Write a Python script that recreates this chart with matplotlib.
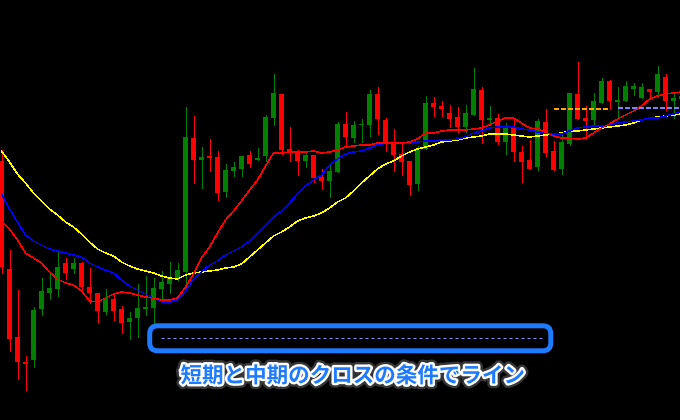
import matplotlib
matplotlib.use("Agg")
import matplotlib.pyplot as plt
import matplotlib.patheffects as pe
from matplotlib.patches import FancyBboxPatch
from matplotlib.lines import Line2D
import numpy as np

# ---- price data (arbitrary price levels) ----
opens = [259, 151, 83, 58, 60, 111, 127, 131, 157, 151,
         157, 133, 127, 108, 121, 111, 98, 102, 111, 112,
         131, 136, 142, 148, 282, 260, 264, 263, 228, 249,
         251, 265, 260, 264, 302, 326, 271, 269, 259, 265,
         243, 239, 248, 296, 282, 295, 295, 326, 300, 279,
         266, 259, 236, 271, 317, 314, 307, 303, 293, 305,
         330, 300, 302, 278, 293, 268, 260, 253, 298, 269,
         251, 276, 326, 302, 300, 317, 339, 318, 319, 331,
         322, 331, 328, 343, 319, 321]
highs = [270, 170, 130, 64, 113, 142, 147, 168, 162, 162,
         158, 152, 127, 131, 127, 114, 108, 136, 144, 142,
         149, 158, 157, 313, 304, 273, 281, 269, 256, 258,
         264, 269, 272, 305, 346, 326, 293, 270, 269, 265,
         251, 257, 298, 308, 299, 301, 330, 333, 302, 291,
         276, 259, 274, 324, 323, 319, 315, 313, 315, 352,
         333, 314, 306, 297, 300, 274, 280, 301, 311, 279,
         286, 327, 358, 314, 327, 342, 340, 333, 339, 337,
         337, 331, 354, 346, 327, 330]
lows = [147, 69, 41, 30, 53, 105, 121, 124, 141, 147,
        129, 117, 98, 106, 100, 87, 81, 83, 105, 95,
        121, 127, 140, 133, 237, 232, 249, 220, 223, 244,
        244, 253, 260, 259, 295, 266, 259, 245, 253, 238,
        231, 223, 248, 276, 278, 278, 284, 286, 269, 249,
        245, 225, 230, 271, 304, 304, 293, 288, 288, 305,
        277, 295, 276, 266, 259, 238, 251, 250, 264, 250,
        246, 275, 301, 282, 295, 317, 311, 303, 319, 325,
        322, 321, 325, 310, 302, 320]
closes = [153, 81, 58, 56, 110, 129, 132, 153, 147, 157,
          133, 127, 109, 122, 109, 97, 102, 112, 113, 132,
          138, 143, 150, 283, 260, 263, 262, 227, 250, 253,
          264, 256, 262, 303, 327, 270, 269, 259, 265, 242,
          239, 249, 296, 283, 295, 296, 326, 301, 277, 265,
          258, 235, 270, 317, 313, 311, 301, 293, 307, 331,
          300, 302, 278, 292, 268, 258, 251, 299, 267, 250,
          278, 327, 301, 299, 319, 339, 319, 320, 334, 334,
          333, 328, 346, 319, 322, 324]

# ---- moving averages (short / medium / long) ----
ma_short = [199, 191, 180, 167, 162, 157, 148, 141, 137, 135,
            129, 119, 118, 122, 126, 128, 127, 125, 123, 122,
            120, 120, 122, 133, 146, 162, 173, 187, 200, 209,
            219, 230, 240, 254, 267, 267, 268, 268, 268, 269,
            267, 268, 270, 273, 274, 275, 275, 277, 277, 277,
            277, 278, 281, 287, 287, 289, 290, 290, 290, 291,
            292, 295, 299, 302, 302, 297, 292, 291, 288, 284,
            282, 282, 281, 282, 287, 292, 296, 301, 305, 309,
            314, 321, 324, 326, 327, 328]
ma_medium = [226, 211, 198, 185, 179, 175, 171, 169, 167, 165,
             163, 157, 153, 150, 147, 140, 134, 130, 126, 122,
             118, 118, 120, 129, 141, 148, 155, 159, 165, 169,
             173, 179, 187, 195, 203, 209, 217, 226, 234, 240,
             245, 255, 261, 266, 268, 269, 272, 275, 277, 278,
             277, 277, 278, 279, 279, 280, 280, 281, 283, 287,
             289, 292, 293, 293, 293, 291, 290, 288, 287, 286,
             286, 289, 292, 293, 294, 294, 295, 297, 298, 299,
             300, 302, 302, 304, 306, 308]
ma_long = [269, 258, 246, 237, 227, 219, 211, 205, 198, 193,
           186, 178, 171, 167, 164, 158, 154, 151, 149, 147,
           144, 142, 141, 145, 147, 148, 149, 150, 152, 153,
           156, 163, 170, 177, 184, 188, 193, 199, 202, 204,
           207, 212, 218, 222, 229, 237, 244, 251, 256, 259,
           264, 268, 271, 273, 275, 278, 279, 280, 282, 283,
           284, 286, 286, 286, 285, 284, 283, 284, 285, 286,
           287, 289, 289, 290, 291, 292, 293, 294, 295, 297,
           300, 302, 303, 304, 305, 306]

# horizontal signal levels: (price, first bar, last bar, colour)
signal_levels = [(311, 69, 76, "#FFA500"), (312, 77, 86, "#8080FF")]

caption = "短期と中期のクロスの条件でライン"

# ---- figure ----
W, H, DPI = 680, 420, 100
fig = plt.figure(figsize=(W / DPI, H / DPI), dpi=DPI, facecolor="black")
ax = fig.add_axes([0, 0, 1, 1])
ax.set_facecolor("black")
ax.set_axis_off()

n = len(opens)
idx = np.arange(n)
o = np.array(opens, float)
h = np.array(highs, float)
l = np.array(lows, float)
c = np.array(closes, float)
up = c >= o
cols = np.where(up, "#008000", "#FF0000")

px = DPI / 72.0      # pixels per point
lw1 = 1.0 / px       # one-pixel width in points
lw_ma = 0.3          # hairline, aliased average lines

# wicks
ax.vlines(idx, l, h, colors=cols, linewidth=lw1, antialiased=False, zorder=2)
# bodies
body_bottom = np.minimum(o, c)
body_h = np.maximum(np.abs(c - o), 1.0)
ax.bar(idx, body_h, bottom=body_bottom, width=0.625, color=cols,
       linewidth=0, antialiased=False, zorder=3)

# moving averages
ax.plot(idx, ma_long, color="#FFFF00", lw=lw_ma, antialiased=False, zorder=4)
ax.plot(idx, ma_medium, color="#0000FF", lw=lw_ma, antialiased=False, zorder=4)
ax.plot(idx, ma_short, color="#FF0000", lw=lw_ma, antialiased=False, zorder=4)

# signal levels
for lvl, i0, i1, colr in signal_levels:
    ax.hlines(lvl, i0, i1, colors=colr, linewidth=lw_ma, linestyles=(0, (12, 7)),
              antialiased=False, zorder=5)

# x: bar k centred at pixel 1.5 + 8k ; y: one price unit per pixel
ax.set_xlim(-1.5 / 8, (W - 1.5) / 8)
ax.set_ylim(0, H)

# ---- rounded box with dashed sample line ----
inch = fig.dpi_scale_trans
bx0, by0, bw, bh = 149.7, 420 - 350.8, 401.1, 25.0
box = FancyBboxPatch((bx0 / DPI, by0 / DPI), bw / DPI, bh / DPI,
                     boxstyle="round,pad=0,rounding_size=0.08",
                     transform=inch, fill=False, edgecolor="#1E7BFF",
                     linewidth=5 / px, zorder=10)
fig.add_artist(box)
fig.add_artist(Line2D([160.7 / DPI, 541.7 / DPI], [(420 - 338.3) / DPI] * 2,
                      transform=inch, color="#8C8CFF", linewidth=lw1,
                      linestyle=(0, (3, 3)), zorder=11))

# ---- caption ----
plt.rcParams["font.family"] = ["Noto Sans CJK JP", "DejaVu Sans"]
txt = fig.text(352.5 / W, 1 - 376 / H, caption, ha="center", va="center",
               fontsize=15.5, fontweight="bold", color="#1E7BFF",
               family=["Noto Sans CJK JP", "DejaVu Sans"], zorder=12)
txt.set_path_effects([
    pe.Stroke(linewidth=7, foreground=(0.6, 0.6, 0.6, 0.35)),
    pe.Stroke(linewidth=3.5, foreground="white"),
    pe.Normal(),
])

fig.savefig("out.png", dpi=DPI, facecolor="black")
